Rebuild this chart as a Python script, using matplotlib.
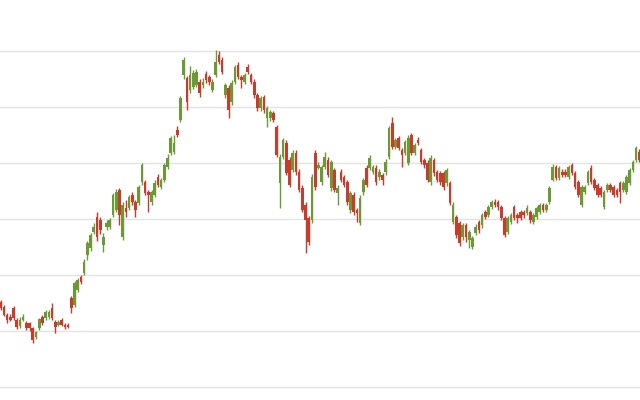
import numpy as np
import matplotlib
matplotlib.use('Agg')
import matplotlib.pyplot as plt

# daily OHLC (price units, grid every 10)
opens = [
    35.2, 34.3, 32.9, 32.5, 34.1, 32.0, 30.9, 32.0, 31.4, 31.4,
    30.5, 28.9, 30.5, 32.5, 32.3, 32.5, 34.1, 31.6, 31.1, 32.0,
    31.1, 31.1, 35.9, 34.6, 37.3, 39.6, 40.3, 43.6, 44.8, 47.7,
    50.4, 49.8, 45.4, 48.6, 48.6, 50.7, 51.6, 55.2, 46.8, 52.0,
    52.0, 54.3, 53.0, 52.9, 56.6, 56.6, 54.8, 53.0, 54.3, 57.5,
    55.7, 57.0, 59.3, 61.8, 62.0, 65.9, 67.7, 75.7, 75.2, 73.0,
    73.6, 73.9, 74.5, 73.9, 75.9, 75.4, 73.0, 75.7, 79.3, 78.4,
    72.1, 73.4, 70.9, 74.5, 77.5, 75.4, 74.5, 77.1, 75.7, 74.5,
    72.1, 69.8, 71.8, 68.0, 68.0, 68.9, 66.4, 56.4, 61.1, 63.6,
    60.5, 58.75, 61.8, 58.4, 55.5, 52.5, 50.2, 49.8, 61.8, 59.1,
    56.6, 59.3, 60.5, 55.5, 58.75, 54.6, 58.4, 57.5, 56.6, 51.6,
    54.3, 51.6, 49.3, 54.8, 59.1, 59.1, 58.4, 59.1, 57.5, 57.9,
    58.4, 61.1, 67.1, 62.9, 64.5, 62.3, 61.8, 60.0, 65.0, 61.8,
    64.1, 62.3, 60.5, 60.0, 56.6, 60.5, 58.4, 58.2, 58.2, 56.4,
    56.4, 49.5, 50.4, 49.3, 46.8, 48.9, 46.25, 45.0, 47.5, 49.5,
    48.9, 51.25, 50.7, 52.1, 53.0, 53.0, 52.1, 50.2, 47.7, 49.5,
    52.1, 50.7, 51.25, 51.25, 51.1, 51.25, 49.5, 50.4, 51.25, 52.5,
    51.6, 53.0, 57.0, 59.3, 57.3, 58.4, 58.4, 57.5, 59.6, 58.2,
    56.6, 52.5, 54.8, 56.4, 59.1, 57.0, 56.1, 55.5, 52.1, 55.2,
    56.1, 55.7, 55.2, 56.4, 55.2, 54.8, 56.4, 58.75, 60.5, 62.0,
]
highs = [
    35.5, 34.6, 33.2, 33.0, 34.5, 32.3, 32.5, 33.0, 31.8, 31.6,
    30.8, 30.0, 32.4, 32.8, 33.7, 33.7, 35.0, 31.9, 31.9, 32.3,
    31.4, 31.4, 36.2, 38.9, 39.5, 40.0, 42.8, 46.1, 47.5, 49.3,
    51.2, 50.4, 47.5, 49.8, 50.2, 54.7, 55.4, 55.5, 53.0, 53.4,
    54.3, 54.8, 53.4, 56.1, 60.0, 57.0, 55.2, 55.2, 57.0, 58.0,
    57.3, 60.0, 61.6, 64.8, 65.0, 66.6, 72.0, 79.0, 75.5, 77.3,
    76.6, 76.8, 75.0, 75.2, 76.4, 75.7, 75.0, 80.2, 80.0, 78.9,
    74.3, 73.9, 74.8, 77.5, 78.0, 75.7, 76.1, 77.7, 76.1, 75.0,
    72.5, 72.0, 72.1, 70.2, 69.5, 69.3, 66.8, 61.6, 64.5, 64.1,
    61.0, 62.3, 62.3, 58.9, 56.0, 53.0, 50.5, 58.0, 62.3, 60.2,
    59.6, 62.0, 61.0, 60.5, 59.1, 56.0, 58.9, 57.9, 57.0, 55.0,
    54.8, 52.0, 54.3, 57.3, 59.6, 61.4, 59.6, 59.6, 58.9, 58.2,
    60.7, 66.6, 68.2, 64.5, 64.8, 62.7, 64.1, 65.0, 65.4, 63.6,
    64.6, 62.7, 60.9, 60.5, 61.4, 60.9, 58.75, 58.6, 58.6, 59.1,
    56.8, 53.0, 50.7, 49.6, 49.3, 49.3, 48.0, 47.0, 49.1, 49.8,
    51.1, 51.6, 52.5, 53.4, 53.6, 53.4, 52.5, 50.5, 50.5, 51.1,
    52.5, 51.1, 51.6, 51.6, 52.5, 51.6, 51.1, 52.3, 52.9, 52.9,
    52.9, 55.9, 59.8, 59.6, 59.5, 58.9, 58.9, 59.6, 60.0, 58.6,
    57.0, 56.1, 56.1, 58.75, 59.6, 57.3, 56.4, 55.9, 55.2, 56.4,
    56.4, 56.1, 55.5, 56.8, 56.8, 57.9, 59.1, 60.5, 63.0, 62.5,
]
lows = [
    33.8, 32.6, 31.4, 31.7, 32.0, 30.4, 30.5, 31.8, 30.2, 30.0,
    27.8, 28.6, 30.2, 31.1, 32.0, 32.2, 32.0, 29.6, 30.9, 30.9,
    30.4, 30.5, 33.2, 34.3, 36.9, 38.4, 40.0, 42.7, 44.3, 47.3,
    46.0, 47.3, 44.1, 48.0, 48.2, 50.4, 51.2, 48.9, 46.3, 50.4,
    51.6, 52.5, 50.4, 52.5, 56.1, 54.3, 51.3, 52.5, 54.0, 55.7,
    55.4, 56.6, 58.9, 61.4, 61.6, 64.6, 67.3, 75.0, 69.5, 72.5,
    73.2, 73.6, 71.8, 73.4, 74.3, 74.0, 72.7, 75.4, 77.7, 75.9,
    71.6, 68.0, 70.4, 74.1, 75.0, 73.4, 74.1, 75.9, 74.1, 71.6,
    69.3, 69.3, 68.9, 66.4, 67.5, 67.3, 61.0, 52.0, 60.7, 57.9,
    55.7, 58.4, 57.9, 54.8, 51.2, 43.9, 45.4, 49.3, 55.2, 58.9,
    56.1, 58.9, 57.5, 55.0, 54.8, 52.5, 56.6, 55.7, 52.5, 51.1,
    50.7, 49.5, 48.9, 54.3, 55.7, 58.75, 58.0, 56.1, 57.0, 56.1,
    57.9, 60.7, 62.5, 62.5, 62.3, 59.3, 61.4, 59.6, 61.4, 61.4,
    63.2, 59.8, 59.1, 56.6, 56.1, 57.7, 56.6, 56.1, 55.2, 55.9,
    52.5, 49.1, 46.6, 45.2, 46.3, 45.9, 44.8, 44.6, 47.1, 47.5,
    48.4, 50.0, 50.4, 51.8, 52.1, 51.6, 49.8, 46.8, 47.3, 49.1,
    49.8, 49.3, 49.8, 50.2, 50.7, 49.3, 49.1, 50.0, 50.9, 51.3,
    51.3, 52.7, 56.8, 56.9, 57.0, 57.5, 57.5, 57.1, 57.9, 55.4,
    53.9, 52.1, 54.5, 56.1, 56.3, 55.2, 53.9, 53.9, 51.8, 54.8,
    54.8, 53.9, 53.9, 52.9, 54.8, 54.5, 56.1, 58.4, 60.2, 60.2,
]
closes = [
    34.1, 32.9, 32.0, 32.0, 32.3, 30.7, 32.0, 32.5, 30.5, 30.5,
    28.4, 29.8, 32.1, 31.4, 33.4, 33.4, 32.3, 30.7, 31.6, 31.1,
    30.7, 30.8, 34.1, 38.6, 39.1, 38.8, 42.3, 45.7, 47.1, 48.6,
    46.8, 48.0, 46.8, 49.3, 49.8, 54.3, 54.8, 50.7, 52.5, 51.3,
    53.9, 53.0, 51.6, 55.7, 59.6, 54.6, 54.3, 54.8, 56.4, 56.1,
    57.0, 59.6, 60.9, 64.5, 63.6, 65.0, 71.6, 78.4, 70.9, 75.7,
    76.1, 76.3, 72.5, 74.5, 74.8, 74.5, 74.5, 78.0, 78.0, 76.3,
    73.9, 69.5, 74.3, 77.1, 75.4, 74.8, 75.7, 76.3, 74.5, 72.1,
    69.8, 71.6, 69.5, 69.8, 69.1, 67.7, 61.4, 61.1, 64.1, 58.2,
    56.1, 61.8, 58.4, 55.2, 51.6, 49.8, 45.9, 57.5, 55.7, 59.6,
    59.3, 61.1, 57.9, 60.2, 55.2, 55.5, 57.0, 56.1, 53.0, 54.6,
    51.25, 51.1, 53.75, 57.0, 56.1, 60.9, 59.3, 56.6, 58.4, 57.0,
    60.2, 66.25, 62.9, 64.1, 62.7, 61.4, 63.75, 64.5, 61.8, 63.2,
    63.6, 60.2, 59.6, 57.0, 60.9, 58.2, 57.0, 56.6, 55.7, 58.75,
    52.9, 52.5, 47.1, 45.7, 48.9, 46.8, 47.7, 46.6, 48.6, 48.0,
    50.7, 50.4, 52.1, 53.0, 52.5, 52.1, 50.2, 47.1, 50.2, 50.7,
    50.2, 50.2, 50.2, 50.7, 52.0, 49.8, 50.7, 52.0, 52.5, 51.6,
    52.5, 55.5, 59.3, 57.3, 59.1, 57.9, 57.9, 59.3, 58.2, 55.7,
    54.3, 55.7, 55.7, 58.4, 56.6, 55.5, 54.3, 54.3, 54.8, 56.1,
    55.2, 54.3, 54.3, 54.8, 56.4, 57.5, 58.75, 60.2, 62.7, 60.5,
]
grid_levels = [20, 30, 40, 50, 60, 70, 80]

up_color = '#6b9a34'
down_color = '#cc3a2c'

o = np.array(opens)
h = np.array(highs)
l = np.array(lows)
c = np.array(closes)
x = np.arange(len(o))
colors = np.where(c >= o, up_color, down_color)

fig = plt.figure(figsize=(6.4, 4.0), dpi=100)
ax = fig.add_axes([0, 0, 1, 1])

for g in grid_levels:
    ax.axhline(g, color='#e3e3e3', linewidth=1, zorder=0)

# wicks
ax.vlines(x, l, h, colors=colors, linewidth=1, zorder=2)
# bodies
bottom = np.minimum(o, c)
height = np.maximum(np.abs(c - o), 0.3)
ax.bar(x, height, bottom=bottom, width=0.82, color=colors, linewidth=0, zorder=3)

ax.set_xlim(-0.22, len(o) - 1 + 0.22)
ax.set_ylim(20 - 13 / 5.6, 20 + 387 / 5.6)
ax.axis('off')

fig.savefig('out.png', dpi=100)
